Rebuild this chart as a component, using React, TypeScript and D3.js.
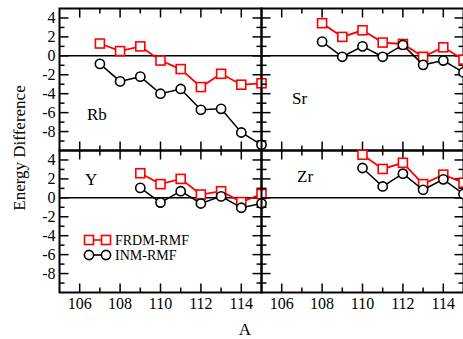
import React, { useEffect, useRef } from "react";
import * as d3 from "d3";

// mass numbers and energy differences per panel
const rbA = [107, 108, 109, 110, 111, 112, 113, 114, 115];
const rbFrdm = [1.3, 0.5, 1.0, -0.5, -1.4, -3.3, -1.9, -3.05, -2.9];
const rbInm = [-0.85, -2.7, -2.2, -4.0, -3.5, -5.7, -5.6, -8.1, -9.4];

const srA = [108, 109, 110, 111, 112, 113, 114, 115];
const srFrdm = [3.45, 2.0, 2.7, 1.4, 1.25, -0.1, 0.9, -0.4];
const srInm = [1.5, -0.1, 1.0, -0.1, 1.15, -0.95, -0.5, -1.75];

const yA = [109, 110, 111, 112, 113, 114, 115];
const yFrdm = [2.6, 1.45, 2.0, 0.35, 0.7, -0.45, 0.4];
const yInm = [1.05, -0.5, 0.7, -0.6, 0.15, -1.05, -0.6];

const zrA = [110, 111, 112, 113, 114, 115];
const zrFrdm = [4.55, 3.05, 3.7, 1.45, 2.45, 1.6];
const zrInm = [3.15, 1.2, 2.55, 0.85, 1.95, 0.4];

const xTicks = [106, 108, 110, 112, 114];
const yTicks = [4, 2, 0, -2, -4, -6, -8];
const seriesNames = ["FRDM-RMF", "INM-RMF"];

const FONT = "'Liberation Serif', 'Times New Roman', serif";
const RED = "#ff0000";

const App: React.FC = () => {
  const ref = useRef<SVGSVGElement | null>(null);

  useEffect(() => {
    if (!ref.current) return;
    const svg = d3.select(ref.current);
    svg.selectAll("*").remove();

    const panelW = 202;
    const panelH = 142;
    const x0s = [59.5, 59.5 + panelW];
    const y0s = [8.5, 8.5 + panelH];

    const panels = [
      { label: "Rb", col: 0, row: 0, A: rbA, f: rbFrdm, n: rbInm, lx: 87, ly: 119.5 },
      { label: "Sr", col: 1, row: 0, A: srA, f: srFrdm, n: srInm, lx: 292, ly: 104 },
      { label: "Y", col: 0, row: 1, A: yA, f: yFrdm, n: yInm, lx: 85, ly: 185 },
      { label: "Zr", col: 1, row: 1, A: zrA, f: zrFrdm, n: zrInm, lx: 297, ly: 182 },
    ];

    panels.forEach((p) => {
      const left = x0s[p.col];
      const top = y0s[p.row];
      const x = d3.scaleLinear().domain([105, 115]).range([left, left + panelW]);
      const y = d3.scaleLinear().domain([-10, 5]).range([top + panelH, top]);
      const g = svg.append("g");

      // zero line
      g.append("line")
        .attr("x1", left).attr("x2", left + panelW)
        .attr("y1", y(0)).attr("y2", y(0))
        .attr("stroke", "black").attr("stroke-width", 1.5);

      // ticks (inward on all four sides)
      const tickG = g.append("g").attr("stroke", "black").attr("stroke-width", 1.5);
      d3.range(106, 115).forEach((v) => {
        const len = v % 2 === 0 ? 9 : 5;
        tickG.append("line").attr("x1", x(v)).attr("x2", x(v))
          .attr("y1", top + panelH).attr("y2", top + panelH - len);
        tickG.append("line").attr("x1", x(v)).attr("x2", x(v))
          .attr("y1", top).attr("y2", top + len);
      });
      d3.range(-9, 5).forEach((v) => {
        const len = v % 2 === 0 ? 9 : 5;
        tickG.append("line").attr("y1", y(v)).attr("y2", y(v))
          .attr("x1", left).attr("x2", left + len);
        tickG.append("line").attr("y1", y(v)).attr("y2", y(v))
          .attr("x1", left + panelW).attr("x2", left + panelW - len);
      });

      // frame
      g.append("rect")
        .attr("x", left).attr("y", top)
        .attr("width", panelW).attr("height", panelH)
        .attr("fill", "none").attr("stroke", "black").attr("stroke-width", 2);

      // tick labels
      if (p.col === 0) {
        yTicks.forEach((v) => {
          g.append("text")
            .attr("x", left - 4).attr("y", y(v) + 5.5)
            .attr("text-anchor", "end")
            .style("font-family", FONT).style("font-size", "16px")
            .text(String(v));
        });
      }
      if (p.row === 1) {
        xTicks.forEach((v) => {
          g.append("text")
            .attr("x", x(v)).attr("y", top + panelH + 16.5)
            .attr("text-anchor", "middle")
            .style("font-family", FONT).style("font-size", "16px")
            .text(String(v));
        });
      }

      // series
      const line = d3.line<number>()
        .x((_, i) => x(p.A[i]))
        .y((d) => y(d));

      g.append("path").datum(p.f)
        .attr("d", line).attr("fill", "none")
        .attr("stroke", RED).attr("stroke-width", 1.8);
      g.selectAll(null).data(p.f).enter().append("rect")
        .attr("x", (_, i) => x(p.A[i]) - 4.5)
        .attr("y", (d) => y(d) - 4.5)
        .attr("width", 9).attr("height", 9)
        .attr("fill", "white").attr("stroke", RED).attr("stroke-width", 1.6);

      g.append("path").datum(p.n)
        .attr("d", line).attr("fill", "none")
        .attr("stroke", "black").attr("stroke-width", 1.5);
      g.selectAll(null).data(p.n).enter().append("circle")
        .attr("cx", (_, i) => x(p.A[i]))
        .attr("cy", (d) => y(d))
        .attr("r", 4.6)
        .attr("fill", "white").attr("stroke", "black").attr("stroke-width", 1.6);

      g.append("text")
        .attr("x", p.lx).attr("y", p.ly)
        .style("font-family", FONT).style("font-size", "17px")
        .text(p.label);
    });

    // legend
    const lg = svg.append("g");
    seriesNames.forEach((name, i) => {
      const ly = 240 + i * 15;
      const color = i === 0 ? RED : "black";
      lg.append("line").attr("x1", 89).attr("x2", 106)
        .attr("y1", ly).attr("y2", ly)
        .attr("stroke", color).attr("stroke-width", 1.6);
      [89, 106].forEach((cx) => {
        if (i === 0) {
          lg.append("rect").attr("x", cx - 4.5).attr("y", ly - 4.5)
            .attr("width", 9).attr("height", 9)
            .attr("fill", "white").attr("stroke", RED).attr("stroke-width", 1.6);
        } else {
          lg.append("circle").attr("cx", cx).attr("cy", ly).attr("r", 4.6)
            .attr("fill", "white").attr("stroke", "black").attr("stroke-width", 1.6);
        }
      });
      lg.append("text").attr("x", 115).attr("y", ly + 5)
        .style("font-family", FONT).style("font-size", "14px")
        .text(name);
    });

    // axis titles
    svg.append("text")
      .attr("transform", "translate(25,148) rotate(-90)")
      .attr("text-anchor", "middle")
      .style("font-family", FONT).style("font-size", "17px")
      .text("Energy Difference");
    svg.append("text")
      .attr("x", 245).attr("y", 335)
      .attr("text-anchor", "middle")
      .style("font-family", FONT).style("font-size", "17px")
      .text("A");
  }, []);

  return (
    <svg
      ref={ref}
      width={463}
      height={339}
      style={{ position: "absolute", left: 0, top: 0, background: "white" }}
    />
  );
};

export default App;
